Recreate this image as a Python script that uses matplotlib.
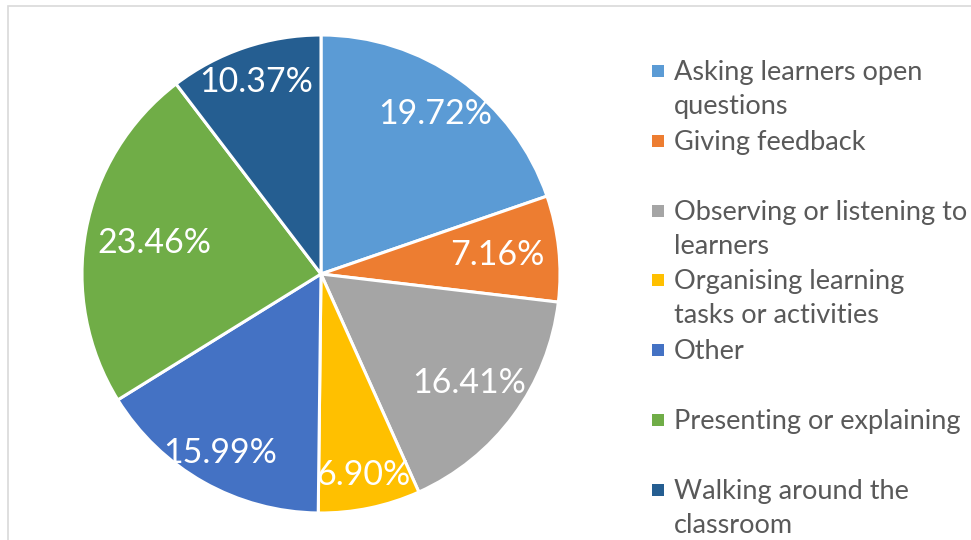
import matplotlib
matplotlib.use("Agg")
import matplotlib.pyplot as plt
from matplotlib.patches import Rectangle
import numpy as np

categories = ["Asking learners open\nquestions", "Giving feedback",
              "Observing or listening to\nlearners", "Organising learning\ntasks or activities",
              "Other", "Presenting or explaining", "Walking around the\nclassroom"]
values = [19.72, 7.16, 16.41, 6.90, 15.99, 23.46, 10.37]
colors = ["#5B9BD5", "#ED7D31", "#A5A5A5", "#FFC000", "#4472C4", "#70AD47", "#255E91"]
label_dist = [0.82, 0.74, 0.77, 0.86, 0.86, 0.71, 0.85]

FONT = "Lato"
W, H = 971, 540
fig = plt.figure(figsize=(W / 100, H / 100), dpi=100)

# frame
fig.add_artist(Rectangle((7.5 / W, -0.1), 1.2, 1.1 - 5.5 / H, transform=fig.transFigure,
                         fill=False, edgecolor="#D9D9D9", linewidth=1.2))

cx, cy, r = 321, 274, 239
ax = fig.add_axes([(cx - r) / W, (H - cy - r) / H, 2 * r / W, 2 * r / H])
wedges, _ = ax.pie(values, colors=colors, startangle=90, counterclock=False,
                   wedgeprops=dict(edgecolor="white", linewidth=2.2))
ax.set_xlim(-1, 1)
ax.set_ylim(-1, 1)
ax.set_aspect("auto")

total = sum(values)
cum = 0
for v, d in zip(values, label_dist):
    mid = np.deg2rad(90 - (cum + v / 2) / total * 360)
    cum += v
    ax.text(d * np.cos(mid), d * np.sin(mid), f"{v:.2f}%", ha="center", va="center",
            color="white", fontsize=24.5, family=FONT)

# legend
y0, step = 71, 69.8
for i, (lab, c) in enumerate(zip(categories, colors)):
    yc = y0 + i * step
    fig.add_artist(Rectangle((652 / W, 1 - (yc + 6) / H), 12 / W, 12 / H,
                             transform=fig.transFigure, facecolor=c, edgecolor="none"))
    fig.text(674 / W, 1 - (yc - 11) / H, lab, ha="left", va="top", color="#595959",
             fontsize=19.5, family=FONT, linespacing=1.45)

fig.savefig("out.png", dpi=100)
